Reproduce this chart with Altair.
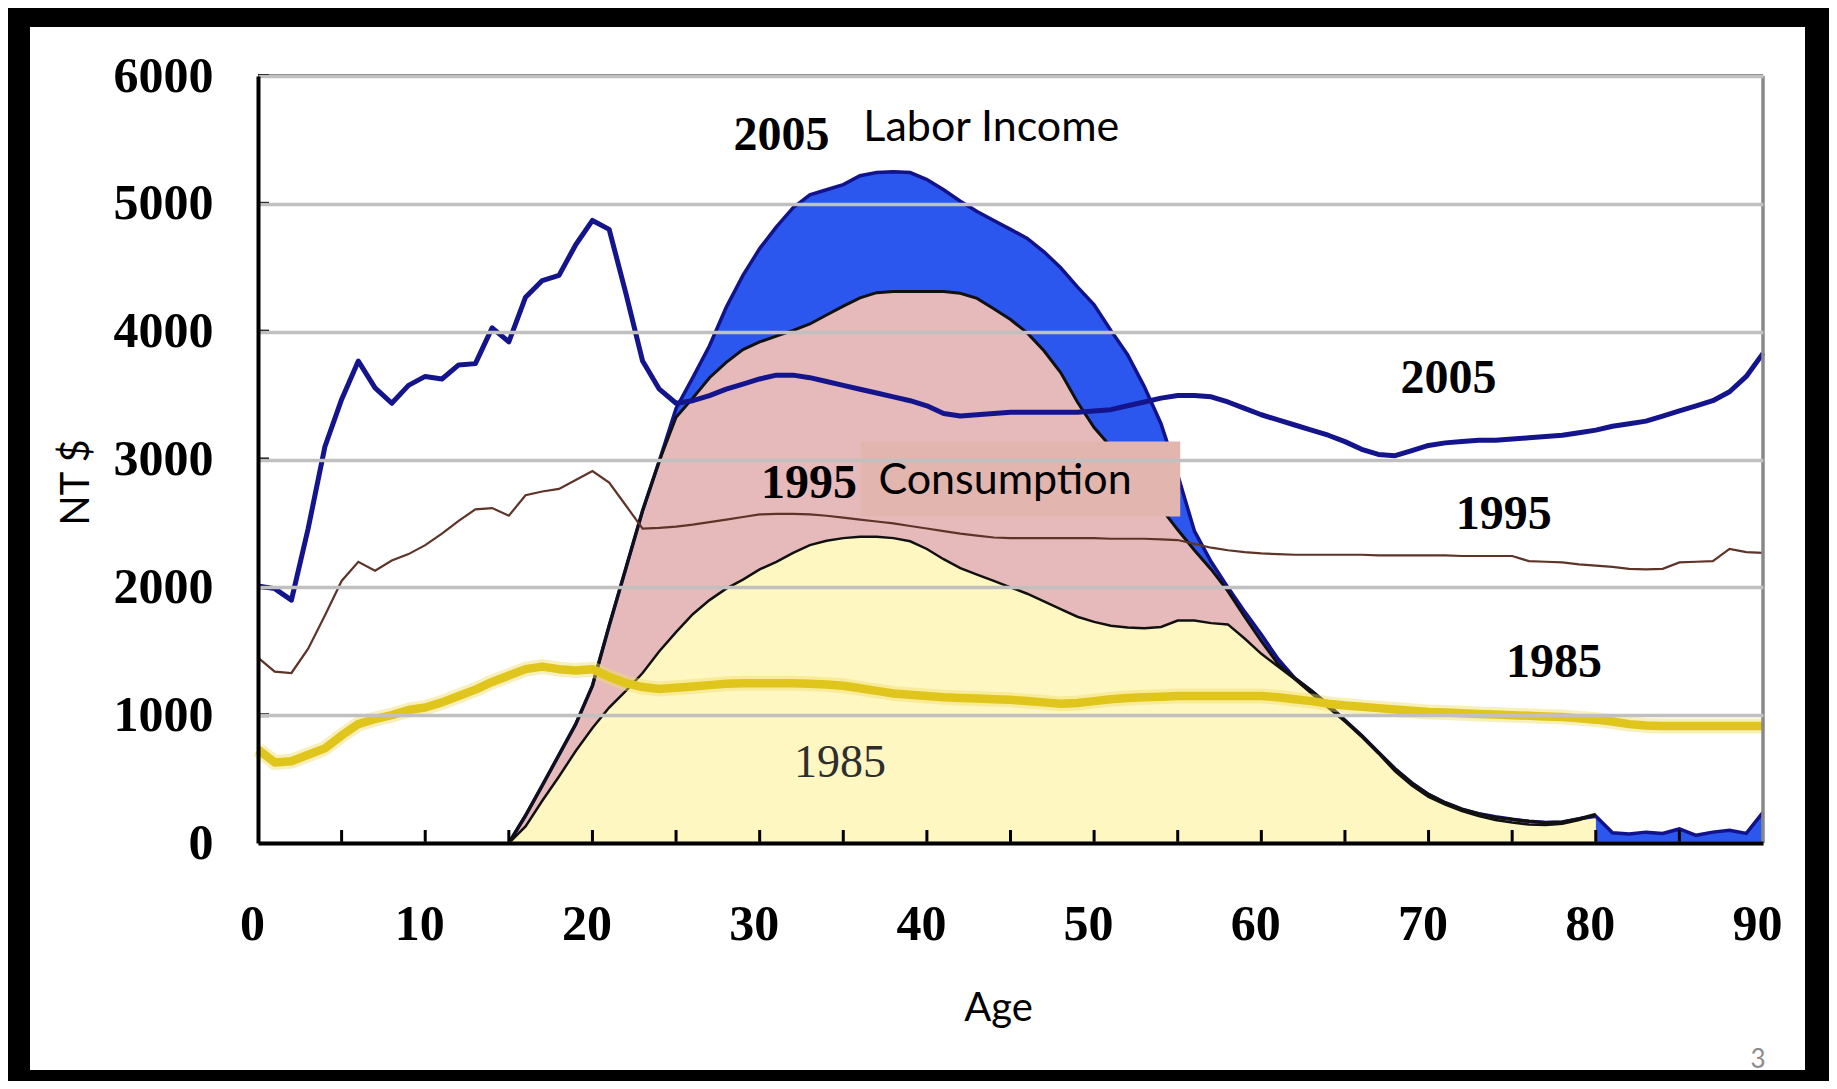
import altair as alt
import pandas as pd

# ---------------- data ----------------
ages_cons = list(range(0, 91))
cons_2005 = [2010, 1990, 1900, 2460, 3100, 3470, 3770, 3560, 3440, 3580,
             3650, 3630, 3740, 3750, 4030, 3920, 4270, 4400, 4440, 4680,
             4870, 4800, 4300, 3770, 3550, 3440, 3460, 3500, 3550, 3590,
             3630, 3660, 3660, 3640, 3610, 3580, 3550, 3520, 3490, 3460,
             3420, 3360, 3340, 3350, 3360, 3370, 3370, 3370, 3370, 3370,
             3380, 3390, 3420, 3450, 3480, 3500, 3500, 3490, 3450, 3400,
             3350, 3310, 3270, 3230, 3190, 3140, 3080, 3040, 3030, 3070,
             3110, 3130, 3140, 3150, 3150, 3160, 3170, 3180, 3190, 3210,
             3230, 3260, 3280, 3300, 3340, 3380, 3420, 3460, 3530, 3650,
             3830]
cons_1995 = [1450, 1340, 1330, 1520, 1780, 2050, 2200, 2130, 2210, 2260,
             2330, 2420, 2520, 2610, 2620, 2560, 2720, 2750, 2770, 2840,
             2910, 2820, 2640, 2460, 2465, 2475, 2490, 2510, 2530, 2550,
             2570, 2575, 2575, 2570, 2560, 2545, 2530, 2515, 2500, 2480,
             2460, 2440, 2420, 2405, 2390, 2385, 2385, 2385, 2385, 2385,
             2385, 2380, 2380, 2380, 2375, 2370, 2340, 2310, 2290, 2275,
             2265, 2260, 2255, 2255, 2255, 2255, 2255, 2250, 2250, 2250,
             2250, 2250, 2245, 2245, 2245, 2245, 2205, 2200, 2195, 2180,
             2170, 2160, 2145, 2140, 2145, 2195, 2200, 2205, 2300, 2275,
             2270]
cons_1985 = [730, 630, 640, 690, 740, 840, 930, 970, 1000, 1040,
             1060, 1100, 1150, 1200, 1260, 1310, 1360, 1380, 1360, 1350,
             1360, 1300, 1250, 1220, 1205, 1215, 1225, 1235, 1245, 1250,
             1250, 1250, 1250, 1245, 1240, 1230, 1210, 1190, 1170, 1160,
             1150, 1140, 1135, 1130, 1125, 1120, 1110, 1100, 1090, 1095,
             1110, 1125, 1135, 1140, 1145, 1150, 1150, 1150, 1150, 1150,
             1150, 1140, 1125, 1110, 1090, 1075, 1065, 1055, 1045, 1035,
             1025, 1020, 1015, 1010, 1005, 1000, 995, 990, 985, 975,
             965, 950, 930, 920, 915, 915, 915, 915, 915, 915,
             915]

ages_labor_2005 = list(range(15, 91))
labor_2005 = [0, 215, 450, 690, 930, 1230, 1700, 2150, 2600, 2990,
              3400, 3640, 3890, 4190, 4440, 4650, 4820, 4970, 5070, 5110,
              5150, 5220, 5245, 5250, 5245, 5190, 5110, 5020, 4940, 4870,
              4800, 4730, 4625, 4500, 4350, 4210, 4010, 3820, 3570, 3280,
              2880, 2440, 2200, 2000, 1810, 1630, 1440, 1290, 1190, 1080,
              960, 840, 710, 580, 470, 380, 315, 265, 230, 205,
              185, 170, 160, 165, 190, 210, 80, 70, 85, 75,
              110, 60, 85, 100, 75, 240]

ages_labor_old = list(range(15, 81))
labor_1995 = [0, 215, 450, 690, 930, 1230, 1700, 2150, 2600, 2990,
              3330, 3480, 3640, 3760, 3860, 3920, 3965, 4010, 4060, 4130,
              4200, 4265, 4305, 4315, 4315, 4315, 4315, 4300, 4260, 4180,
              4095, 3990, 3850, 3680, 3450, 3250, 3100, 2950, 2790, 2620,
              2450, 2290, 2140, 1970, 1770, 1580, 1400, 1290, 1190, 1080,
              960, 840, 710, 580, 470, 380, 315, 265, 230, 200,
              185, 170, 160, 165, 190, 225]
labor_1985 = [0, 130, 330, 520, 720, 900, 1060, 1190, 1330, 1500,
              1650, 1790, 1900, 1990, 2060, 2140, 2200, 2270, 2330, 2365,
              2385, 2395, 2395, 2385, 2360, 2300, 2220, 2150, 2100, 2050,
              2000, 1950, 1890, 1830, 1770, 1730, 1700, 1685, 1680, 1690,
              1740, 1740, 1720, 1710, 1600, 1480, 1380, 1280, 1170, 1060,
              950, 830, 700, 560, 450, 360, 300, 250, 210, 180,
              160, 145, 140, 150, 180, 220]

x_tick_labels = [0, 10, 20, 30, 40, 50, 60, 70, 80, 90]
y_tick_labels = [0, 1000, 2000, 3000, 4000, 5000, 6000]
inner_x_ticks = [5, 10, 15, 20, 25, 30, 35, 40, 45, 50, 55, 60, 65, 70, 75, 80, 85]

bold_label_text = ["2005", "1995", "2005", "1995", "1985"]
bold_label_age = [31.3, 32.95, 71.2, 74.5, 77.5]
bold_label_value = [5425, 2695, 3520, 2453, 1302]

# ---------------- frames ----------------
c05_df = pd.DataFrame({"age": ages_cons, "v": cons_2005})
c95_df = pd.DataFrame({"age": ages_cons, "v": cons_1995})
c85_df = pd.DataFrame({"age": ages_cons, "v": cons_1985})
lab05 = pd.DataFrame({"age": ages_labor_2005, "v": labor_2005})
lab95 = pd.DataFrame({"age": ages_labor_old, "v": labor_1995})
lab85 = pd.DataFrame({"age": ages_labor_old, "v": labor_1985})
bold_df = pd.DataFrame({"age": bold_label_age, "v": bold_label_value,
                        "t": bold_label_text})

W, H = 1505, 767
PAD_L, PAD_T, PAD_R, PAD_B = 250, 68, 66, 238
SERIF = "Liberation Serif"
SANS = "Lato"

xscale = alt.Scale(domain=[0, 90], nice=False, zero=False)
yscale = alt.Scale(domain=[0, 6000], nice=False)

x_axis = alt.Axis(values=x_tick_labels, format="d", labelFont=SERIF,
                  labelFontWeight="bold", labelFontSize=50, labelColor="black",
                  labelPadding=56, labelOffset=-6,
                  ticks=False, tickSize=0, grid=False, domain=True,
                  domainColor="black", domainWidth=4, zindex=1,
                  title="Age", titleFont=SANS, titleFontSize=40,
                  titleFontWeight="normal", titleColor="black",
                  titleX=740, titleY=165, titleBaseline="middle",
                  labelFlush=False)
y_axis = alt.Axis(values=y_tick_labels, format="d", labelFont=SERIF,
                  labelFontWeight="bold", labelFontSize=50, labelColor="black",
                  labelPadding=45,
                  ticks=False, tickSize=0, grid=True, gridColor="#c0c0c0",
                  gridWidth=3.5, domain=True, domainColor="black",
                  domainWidth=4, zindex=1,
                  title="NT $", titleFont=SANS, titleFontSize=40,
                  titleFontWeight="normal", titleColor="black",
                  titleX=-182, titleY=406, titleAngle=270,
                  titleBaseline="middle", titleAlign="center",
                  labelFlush=False)

X = alt.X("age:Q", scale=xscale, axis=x_axis)
Y = alt.Y("v:Q", scale=yscale, axis=y_axis)

area05 = alt.Chart(lab05).mark_area(color="#2b57ef", opacity=1).encode(x=X, y=Y)
area95 = alt.Chart(lab95).mark_area(color="#e6baba", opacity=1).encode(x=X, y=Y)
area85 = alt.Chart(lab85).mark_area(color="#fff7c2", opacity=1).encode(x=X, y=Y)

line05 = alt.Chart(lab05).mark_line(color="#12128c", strokeWidth=3.5).encode(x=X, y=Y)
line95 = alt.Chart(lab95).mark_line(color="#111111", strokeWidth=3).encode(x=X, y=Y)
line85 = alt.Chart(lab85).mark_line(color="#111111", strokeWidth=2.5).encode(x=X, y=Y)

c95 = alt.Chart(c95_df).mark_line(color="#5e3428", strokeWidth=2.2).encode(x=X, y=Y)
c85_glow = alt.Chart(c85_df).mark_line(color="#f0de6a", strokeWidth=15, opacity=0.45,
                                       strokeJoin="round").encode(x=X, y=Y)
c85 = alt.Chart(c85_df).mark_line(color="#e0c61c", strokeWidth=8.5,
                                  strokeJoin="round").encode(x=X, y=Y)
c05 = alt.Chart(c05_df).mark_line(color="#14148c", strokeWidth=5,
                                  strokeJoin="round").encode(x=X, y=Y)

# plot borders (top at 6000, right at 90)
top_rule = alt.Chart(pd.DataFrame({"v": [6000]})).mark_rule(
    color="#858585", strokeWidth=4).encode(y=Y, x=alt.value(0), x2=alt.value(W))
right_rule = alt.Chart(pd.DataFrame({"age": [90]})).mark_rule(
    color="#888888", strokeWidth=3.5).encode(x=X, y=alt.value(0), y2=alt.value(H))

# inner ticks
xt = alt.Chart(pd.DataFrame({"age": inner_x_ticks})).mark_rule(
    color="black", strokeWidth=3).encode(x=X, y=alt.value(H), y2=alt.value(H - 13))
yt = alt.Chart(pd.DataFrame({"v": y_tick_labels[1:]})).mark_rule(
    color="black", strokeWidth=4).encode(y=Y, x=alt.value(0), x2=alt.value(11))

# consumption label box
box = alt.Chart(pd.DataFrame({"age": [36.05], "age2": [55.15],
                              "v": [3141], "v2": [2554]})).mark_rect(
    color="#e3b5af").encode(x=X, x2="age2:Q", y=Y, y2="v2:Q")

bold_txt = alt.Chart(bold_df).mark_text(font=SERIF, fontWeight="bold", fontSize=48,
                                        color="black", align="center",
                                        baseline="alphabetic").encode(
    x=X, y=Y, text="t:N")
light_txt = alt.Chart(pd.DataFrame({"age": [34.8], "v": [513], "t": ["1985"]})).mark_text(
    font=SERIF, fontWeight="normal", fontSize=46, color="#2e2e2e", align="center",
    baseline="alphabetic").encode(x=X, y=Y, text="t:N")
sans_txt = alt.Chart(pd.DataFrame({"age": [36.2, 37.1], "v": [5488, 2734],
                                   "t": ["Labor Income", "Consumption"]})).mark_text(
    font=SANS, fontSize=43, color="black", align="left", baseline="alphabetic").encode(
    x=X, y=Y, text="t:N")

# slide frame and page number (decoration, in pixels)
frame_df = pd.DataFrame({"k": ["top", "left", "right", "bottom"]})
R_EDGE = W + PAD_R
B_EDGE = H + PAD_B
frame_top = alt.Chart(frame_df.iloc[[0]]).mark_rect(color="black").encode(
    x=alt.value(-PAD_L), x2=alt.value(R_EDGE), y=alt.value(-PAD_T), y2=alt.value(-49))
frame_left = alt.Chart(frame_df.iloc[[1]]).mark_rect(color="black").encode(
    x=alt.value(-PAD_L), x2=alt.value(-228), y=alt.value(-PAD_T), y2=alt.value(B_EDGE))
frame_right = alt.Chart(frame_df.iloc[[2]]).mark_rect(color="black").encode(
    x=alt.value(1547), x2=alt.value(R_EDGE), y=alt.value(-PAD_T), y2=alt.value(B_EDGE))
frame_bottom = alt.Chart(frame_df.iloc[[3]]).mark_rect(color="black").encode(
    x=alt.value(-PAD_L), x2=alt.value(R_EDGE), y=alt.value(994), y2=alt.value(B_EDGE))
page_no = alt.Chart(pd.DataFrame({"t": ["3"]})).mark_text(
    font=SANS, fontSize=26, color="#8c8c8c", align="center", baseline="middle").encode(
    x=alt.value(1500), y=alt.value(984), text="t:N")

chart = alt.layer(
    area05, area95, area85, line05, line95, line85,
    c95, c85_glow, c85, c05,
    top_rule, right_rule, xt, yt,
    box, bold_txt, light_txt, sans_txt,
    frame_top, frame_left, frame_right, frame_bottom, page_no,
).properties(
    width=W, height=H,
    autosize=alt.AutoSizeParams(type="none"),
    padding={"left": PAD_L, "top": PAD_T, "right": PAD_R, "bottom": PAD_B},
    background="white",
).configure_view(stroke=None)

chart.save("out.html", embed_options={"renderer": "svg", "actions": False})
